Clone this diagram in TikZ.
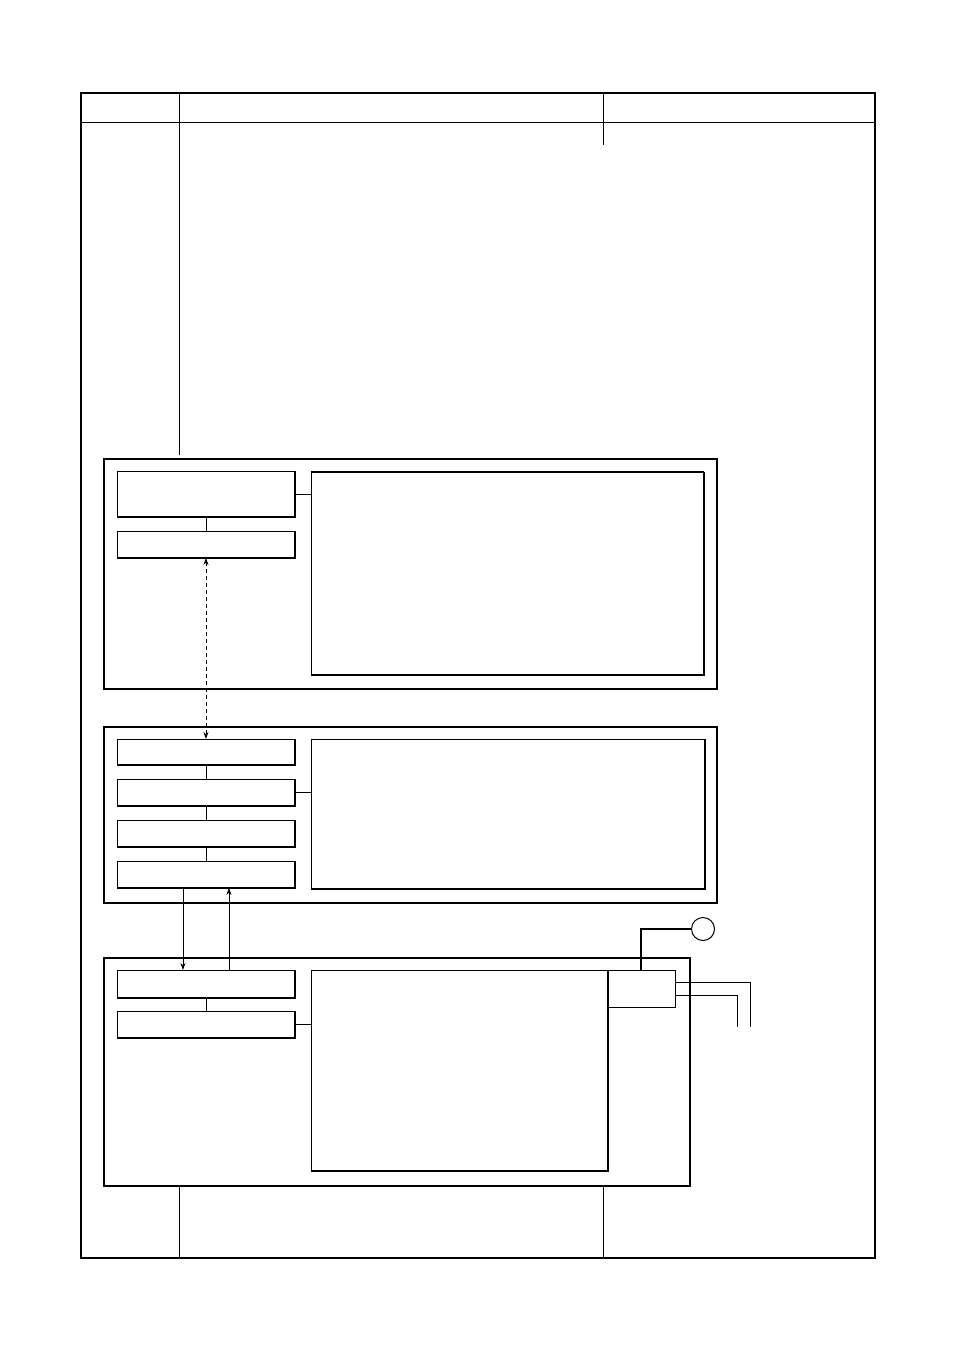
\documentclass[tikz,border=0pt]{standalone}
\usetikzlibrary{arrows.meta}
\begin{document}
\begin{tikzpicture}[x=1pt,y=-1pt,
  thinl/.style={line width=0.9pt},
  thickl/.style={line width=2pt},
  frame/.style={draw,line width=2.2pt,inner sep=0pt,anchor=north west},
  blk/.style={draw,line width=0.9pt,inner sep=0pt,anchor=north west},
  arr/.style={line width=0.9pt,-{Stealth[length=7pt,width=5pt]}},
  darr/.style={line width=0.9pt,dash pattern=on 4pt off 3pt,{Stealth[length=7pt,width=5pt]}-{Stealth[length=7pt,width=5pt]}}
]
\useasboundingbox (0,0) rectangle (954,1351);
% page frame
\node[frame,minimum width=794pt,minimum height=1165pt] (page) at (80,92) {};
\draw[thinl] (80,122) -- (874,122);
\coordinate (c1t) at (179,92); \coordinate (c1b) at (179,455);
\coordinate (c2t) at (603,92); \coordinate (c2b) at (603,145);
\draw[thinl] (c1t) -- (c1b);
\draw[thinl] (c2t) -- (c2b);
\draw[thinl] (179,1186) -- (179,1257);
\draw[thinl] (603,1186) -- (603,1257);
% outer groups
\node[frame,minimum width=613pt,minimum height=230pt] (g1) at (103,458) {};
\node[frame,minimum width=613pt,minimum height=176pt] (g2) at (103,726) {};
\node[frame,minimum width=586pt,minimum height=228pt] (g3) at (103,957) {};
% group 1 blocks
\node[blk,minimum width=177pt,minimum height=45pt] (a1) at (117,471) {};
\node[blk,minimum width=177pt,minimum height=26pt] (a2) at (117,531) {};
\node[blk,minimum width=392pt,minimum height=202pt] (ar) at (311,472) {};
% group 2 blocks
\node[blk,minimum width=177pt,minimum height=25pt] (b1) at (117,739) {};
\node[blk,minimum width=177pt,minimum height=26pt] (b2) at (117,779) {};
\node[blk,minimum width=177pt,minimum height=26pt] (b3) at (117,820) {};
\node[blk,minimum width=177pt,minimum height=26pt] (b4) at (117,861) {};
\node[blk,minimum width=393pt,minimum height=149pt] (br) at (311,739) {};
% group 3 blocks
\node[blk,minimum width=177pt,minimum height=27pt] (d1) at (117,970) {};
\node[blk,minimum width=177pt,minimum height=26pt] (d2) at (117,1011) {};
\node[blk,minimum width=296pt,minimum height=200pt] (dr) at (311,970) {};
\node[blk,minimum width=68pt,minimum height=37pt] (sm) at (607,970) {};
\node[draw,circle,line width=1pt,minimum size=23pt,inner sep=0pt] (ci) at (703,929) {};
% shadow edges
\foreach \n in {a1,a2,ar,b1,b2,b3,b4,br,d1,d2,dr}
  \draw[thickl] (\n.south west) -- (\n.south east) -- (\n.north east);
\draw[thickl] (ar.north west) -- (ar.north east);
% connectors
\draw[thinl] (a1.south) -- (a2.north);
\draw[thinl] (a1.east) -- (a1.east -| ar.west);
\draw[thinl] (b1.south) -- (b2.north);
\draw[thinl] (b2.south) -- (b3.north);
\draw[thinl] (b3.south) -- (b4.north);
\draw[thinl] (b2.east) -- (b2.east -| br.west);
\draw[thinl] (d1.south) -- (d2.north);
\draw[thinl] (d2.east) -- (d2.east -| dr.west);
\draw[darr] (a2.south) -- (b1.north);
\draw[arr] ([xshift=-23pt]b4.south) -- ([xshift=-23pt]d1.north);
\draw[arr] ([xshift=23pt]d1.north) -- ([xshift=23pt]b4.south);
\draw[line width=2.4pt] (ci.west) -- (641,929) -- (641,970);
\coordinate (e1) at (750,1027);
\coordinate (e2) at (737,1027);
\draw[thinl] (675,982) -- (750,982) -- (e1);
\draw[thinl] (675,995) -- (737,995) -- (e2);
\end{tikzpicture}
\end{document}
